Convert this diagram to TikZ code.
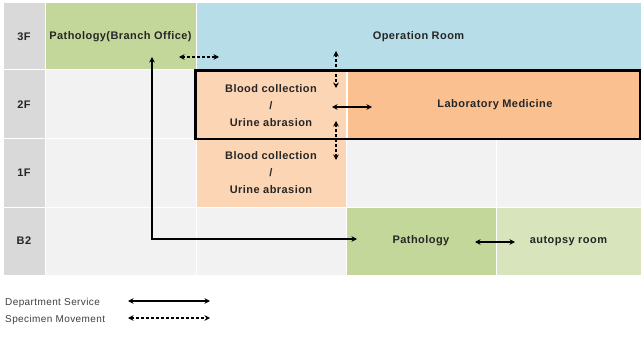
\documentclass[tikz,border=0pt]{standalone}
\usepackage{fontspec}
\setmainfont{Liberation Sans}[LetterSpace=4]
\usetikzlibrary{arrows.meta}
\definecolor{lblgray}{HTML}{D9D9D9}
\definecolor{cellgray}{HTML}{F2F2F2}
\definecolor{patgreen}{HTML}{C4D79B}
\definecolor{autgreen}{HTML}{D8E4BC}
\definecolor{opblue}{HTML}{B7DDE8}
\definecolor{laborange}{HTML}{FAC090}
\definecolor{bloodorange}{HTML}{FCD5B4}
\definecolor{txt}{HTML}{262626}
\definecolor{legtxt}{HTML}{404040}
\tikzset{
  cell/.style={rectangle, inner sep=0pt, draw=white, line width=1pt, align=center, text=txt, font=\fontsize{11}{17}\selectfont\bfseries},
  svc/.style={line width=1.1pt, {Stealth[length=5.5pt,width=5.5pt]}-{Stealth[length=5.5pt,width=5.5pt]}},
  spec/.style={svc, dash pattern=on 3pt off 2pt},
  legend/.style={anchor=west, inner sep=0pt, text=legtxt, font=\fontsize{10}{12}\selectfont}
}
\begin{document}
\begin{tikzpicture}[x=1pt,y=-1pt]
\useasboundingbox (0,0) rectangle (641,337);
\fill[white] (0,0) rectangle (641,337);
% floor labels
\node[cell, fill=lblgray, minimum width=42, minimum height=67] (f3) at (24,36.5) {3F};
\node[cell, fill=lblgray, minimum width=42, minimum height=69] (f2) at (24,104.5) {2F};
\node[cell, fill=lblgray, minimum width=42, minimum height=68] (f1) at (24,173) {1F};
\node[cell, fill=lblgray, minimum width=42, minimum height=68] (fb2) at (24,241) {B2};
% 3F
\node[cell, fill=patgreen, minimum width=151, minimum height=67] (pbo) at (120.5,36.5) {Pathology(Branch Office)};
\node[cell, fill=opblue, minimum width=445, minimum height=67] (op) at (418.5,36.5) {Operation Room};
% 2F
\node[cell, fill=cellgray, minimum width=151, minimum height=69] (c21) at (120.5,104.5) {};
\node[cell, fill=bloodorange, minimum width=150, minimum height=69, text depth=0pt] (bc2) at (271,106) {Blood collection\\/\\Urine abrasion};
\node[cell, fill=laborange, minimum width=295, minimum height=69] (lab) at (495,104.5) {Laboratory Medicine};
% 1F
\node[cell, fill=cellgray, minimum width=151, minimum height=68] (c11) at (120.5,173) {};
\node[cell, fill=bloodorange, minimum width=150, minimum height=68] (bc1) at (271,173) {Blood collection\\/\\Urine abrasion};
\node[cell, fill=cellgray, minimum width=150, minimum height=68] (c13) at (421,173) {};
\node[cell, fill=cellgray, minimum width=145, minimum height=68] (c14) at (568.5,173) {};
% B2
\node[cell, fill=cellgray, minimum width=151, minimum height=68] (cb1) at (120.5,241) {};
\node[cell, fill=cellgray, minimum width=150, minimum height=68] (cb2) at (271,241) {};
\node[cell, fill=patgreen, minimum width=150, minimum height=68] (pat) at (421,241) {Pathology};
\node[cell, fill=autgreen, minimum width=145, minimum height=68] (aut) at (568.5,241) {autopsy room};
% thick frame around 2F block
\draw[line width=2.5pt] (195.5,70.5) rectangle (640,139);
% connectors
\coordinate (pboA) at (152,57);
\coordinate (patA) at (357,239);
\draw[svc] (pboA) |- (patA);
\coordinate (hd1) at (179,57);
\coordinate (hd2) at (219,57);
\draw[spec] (hd1) -- (hd2);
\coordinate (vu1) at (336,51);
\coordinate (vu2) at (336,88);
\draw[spec] (vu1) -- (vu2);
\coordinate (vl1) at (336,121);
\coordinate (vl2) at (336,160);
\draw[spec] (vl1) -- (vl2);
\coordinate (bl1) at (332,107);
\coordinate (bl2) at (372,107);
\draw[svc] (bl1) -- (bl2);
\coordinate (pa1) at (475,242);
\coordinate (pa2) at (515,242);
\draw[svc] (pa1) -- (pa2);
% legend
\node[legend] (lg1) at (5,302.5) {Department Service};
\node[legend] (lg2) at (5,319.5) {Specimen Movement};
\coordinate (la1) at (128,301);
\coordinate (la2) at (210,301);
\draw[svc] (la1) -- (la2);
\coordinate (lb1) at (128,318);
\coordinate (lb2) at (210,318);
\draw[spec] (lb1) -- (lb2);
\end{tikzpicture}
\end{document}
